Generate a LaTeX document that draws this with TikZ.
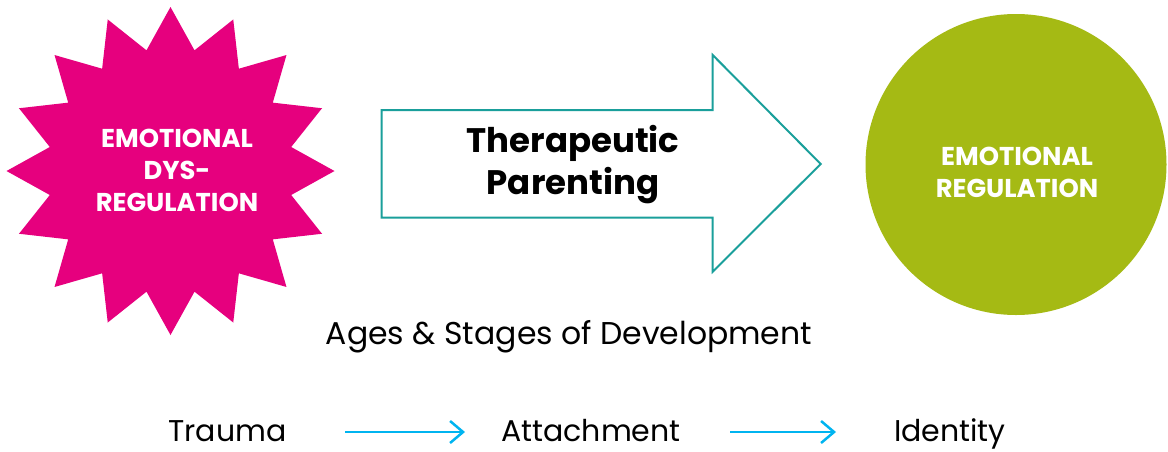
\documentclass[tikz,border=0pt]{standalone}
\usepackage{fontspec}
\setmainfont{Poppins}
\usetikzlibrary{shapes.geometric,arrows.meta}
\definecolor{dyspink}{HTML}{E6007E}
\definecolor{regreen}{HTML}{A5BA14}
\definecolor{teal}{HTML}{1A9F9B}
\definecolor{flowcyan}{HTML}{00B4F0}
\begin{document}
\begin{tikzpicture}[x=1pt,y=-1pt,
  shapelabel/.style={text=white,font=\fontsize{25.8}{32}\selectfont\bfseries,align=center,inner sep=0pt},
  plainlabel/.style={text=black,font=\fontsize{31.5}{36}\selectfont,inner sep=0pt,anchor=base},
  rowlabel/.style={plainlabel,font=\fontsize{30}{36}\selectfont},
  flowarrow/.style={draw=flowcyan,line width=2.5pt,-{Straight Barb[length=13pt,width=22pt,line width=2.5pt]}}
]
\useasboundingbox[fill=white] (0,0) rectangle (1168,451);
% star
\node[star,star points=16,star point ratio=1.333,minimum size=328pt,inner sep=0pt,outer sep=0pt,fill=dyspink,draw=none] (dys) at (170.5,171) {};
\node[shapelabel] (dystext) at (177,170) {EMOTIONAL\\DYS-\\REGULATION};
% big arrow
\draw[draw=teal,line width=2pt,fill=white] (381.7,110) -- (712.7,110) -- (712.7,55) -- (820.7,164) -- (712.7,271.7) -- (712.7,217.7) -- (381.7,217.7) -- cycle;
\node[text=black,font=\fontsize{34}{42}\selectfont\bfseries,align=center,inner sep=0pt] (tp) at (573,165) {Therapeutic\\Parenting};
% circle
\node[circle,fill=regreen,minimum size=301pt,inner sep=0pt] (reg) at (1016,164.5) {};
\node[shapelabel] (regtext) at (1017,172) {EMOTIONAL\\REGULATION};
% bottom texts
\node[plainlabel] (ages) at (569,344) {Ages \& Stages of Development};
\node[rowlabel] (trauma) at (227.5,441) {Trauma};
\node[rowlabel] (attach) at (591,441) {Attachment};
\node[rowlabel] (ident) at (950,441) {Identity};
\coordinate (a1s) at (345,432);
\coordinate (a1e) at (465,432);
\coordinate (a2s) at (730,432);
\coordinate (a2e) at (836,432);
\draw[flowarrow] (a1s) -- (a1e);
\draw[flowarrow] (a2s) -- (a2e);
\end{tikzpicture}
\end{document}
